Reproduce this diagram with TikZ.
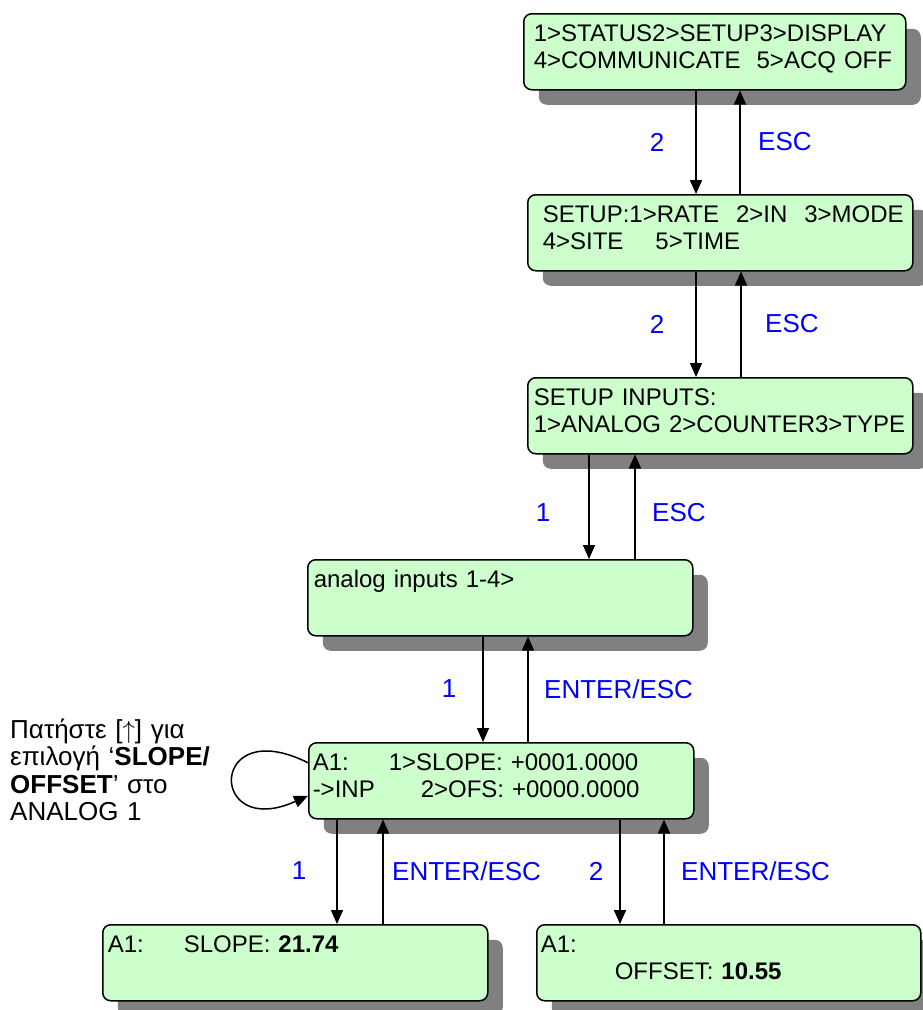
\documentclass[tikz,border=0pt]{standalone}
\usepackage{fontspec}
\setmainfont{Liberation Sans}
\usetikzlibrary{arrows.meta,shadows}
\definecolor{lcdgreen}{RGB}{204,255,204}
\definecolor{keyblue}{RGB}{0,0,255}

\begin{document}
\begin{tikzpicture}[x=1pt, y=-1pt,
  lcd/.style={draw, line width=1.5pt, rounded corners=8pt, fill=lcdgreen,
    drop shadow={shadow xshift=15pt, shadow yshift=-15pt, fill=black!50, opacity=1},
    anchor=north west, align=left, inner ysep=0pt, inner xsep=5pt, text width=375pt,
    text height=28pt, text depth=48pt, font=\fontsize{24}{27}\selectfont},
  key/.style={text=keyblue, font=\fontsize{26}{28}\selectfont, inner sep=0pt},
  arr/.style={line width=1.5pt, -{Triangle[length=14pt,width=12pt]}}]
  \useasboundingbox (0,0) rectangle (922,1010);

  % LCD screens
  \node[lcd, text width=372pt] (main) at (523,13)
    {\hspace*{5pt}1>STATUS2>SETUP3>DISPLAY\\\hspace*{5pt}4>COMMUNICATE\hspace{16pt}5>ACQ OFF};
  \node[lcd] (setup) at (527,194)
    {\hspace*{10pt}SETUP:1>RATE\hspace{17pt}2>IN\hspace{17pt}3>MODE\\\hspace*{10pt}4>SITE\hspace{32pt}5>TIME};
  \node[lcd, inner xsep=6pt, text width=373pt] (inputs) at (527,377)
    {SETUP INPUTS:\\1>ANALOG 2>COUNTER3>TYPE};
  \node[lcd, inner xsep=6pt, text width=373pt] (analog) at (307,559)
    {analog inputs 1-4>};
  \node[lcd, inner xsep=4pt, text width=377pt] (inp) at (308,742)
    {A1:\hspace{40pt}1>SLOPE: +0001.0000\\->INP\hspace{46pt}2>OFS: +0000.0000};
  \node[lcd] (slope) at (102,924)
    {A1:\hspace{40pt}SLOPE: \textbf{21.74}};
  \node[lcd, inner xsep=4pt, text width=376pt] (offset) at (536,924)
    {A1:\\\hspace*{74pt}OFFSET: \textbf{10.55}};

  % key presses: down = select, up = back
  \foreach \hi/\lo/\xd/\xu in {main/setup/696/740, setup/inputs/696/741,
      inputs/analog/589/635, analog/inp/483/528, inp/slope/337/383, inp/offset/620/664}{
    \draw[arr] (\hi.south -| \xd,0) -- (\lo.north -| \xd,0);
    \draw[arr] (\lo.north -| \xu,0) -- (\hi.south -| \xu,0);
  }

  % labels
  \node[key] (k1) at (657,142) {2};
  \node[key, anchor=west] (e1) at (758,142) {ESC};
  \node[key] (k2) at (657,324) {2};
  \node[key, anchor=west] (e2) at (765,324) {ESC};
  \node[key] (k3) at (543,513) {1};
  \node[key, anchor=west] (e3) at (652,513) {ESC};
  \node[key] (k4) at (449,689) {1};
  \node[key, anchor=west] (e4) at (544,689) {ENTER/ESC};
  \node[key] (k5) at (299,871) {1};
  \node[key, anchor=west] (e5) at (392,871) {ENTER/ESC};
  \node[key] (k6) at (596,871) {2};
  \node[key, anchor=west] (e6) at (681,871) {ENTER/ESC};

  % up-key loop on the input screen
  \draw[arr] ([yshift=18pt]inp.west) .. controls +(-100,-50) and +(-100,45) .. ([yshift=-15pt]inp.west);
  \node[anchor=north west, align=left, inner sep=0pt, text width=230pt, text height=20pt,
    font=\fontsize{26}{27.5}\selectfont] (hint) at (10,718)
    {Πατήστε [$\uparrow$] για\\επιλογή ‘\textbf{SLOPE/}\\\textbf{OFFSET}’ στο\\ANALOG 1};
\end{tikzpicture}
\end{document}
